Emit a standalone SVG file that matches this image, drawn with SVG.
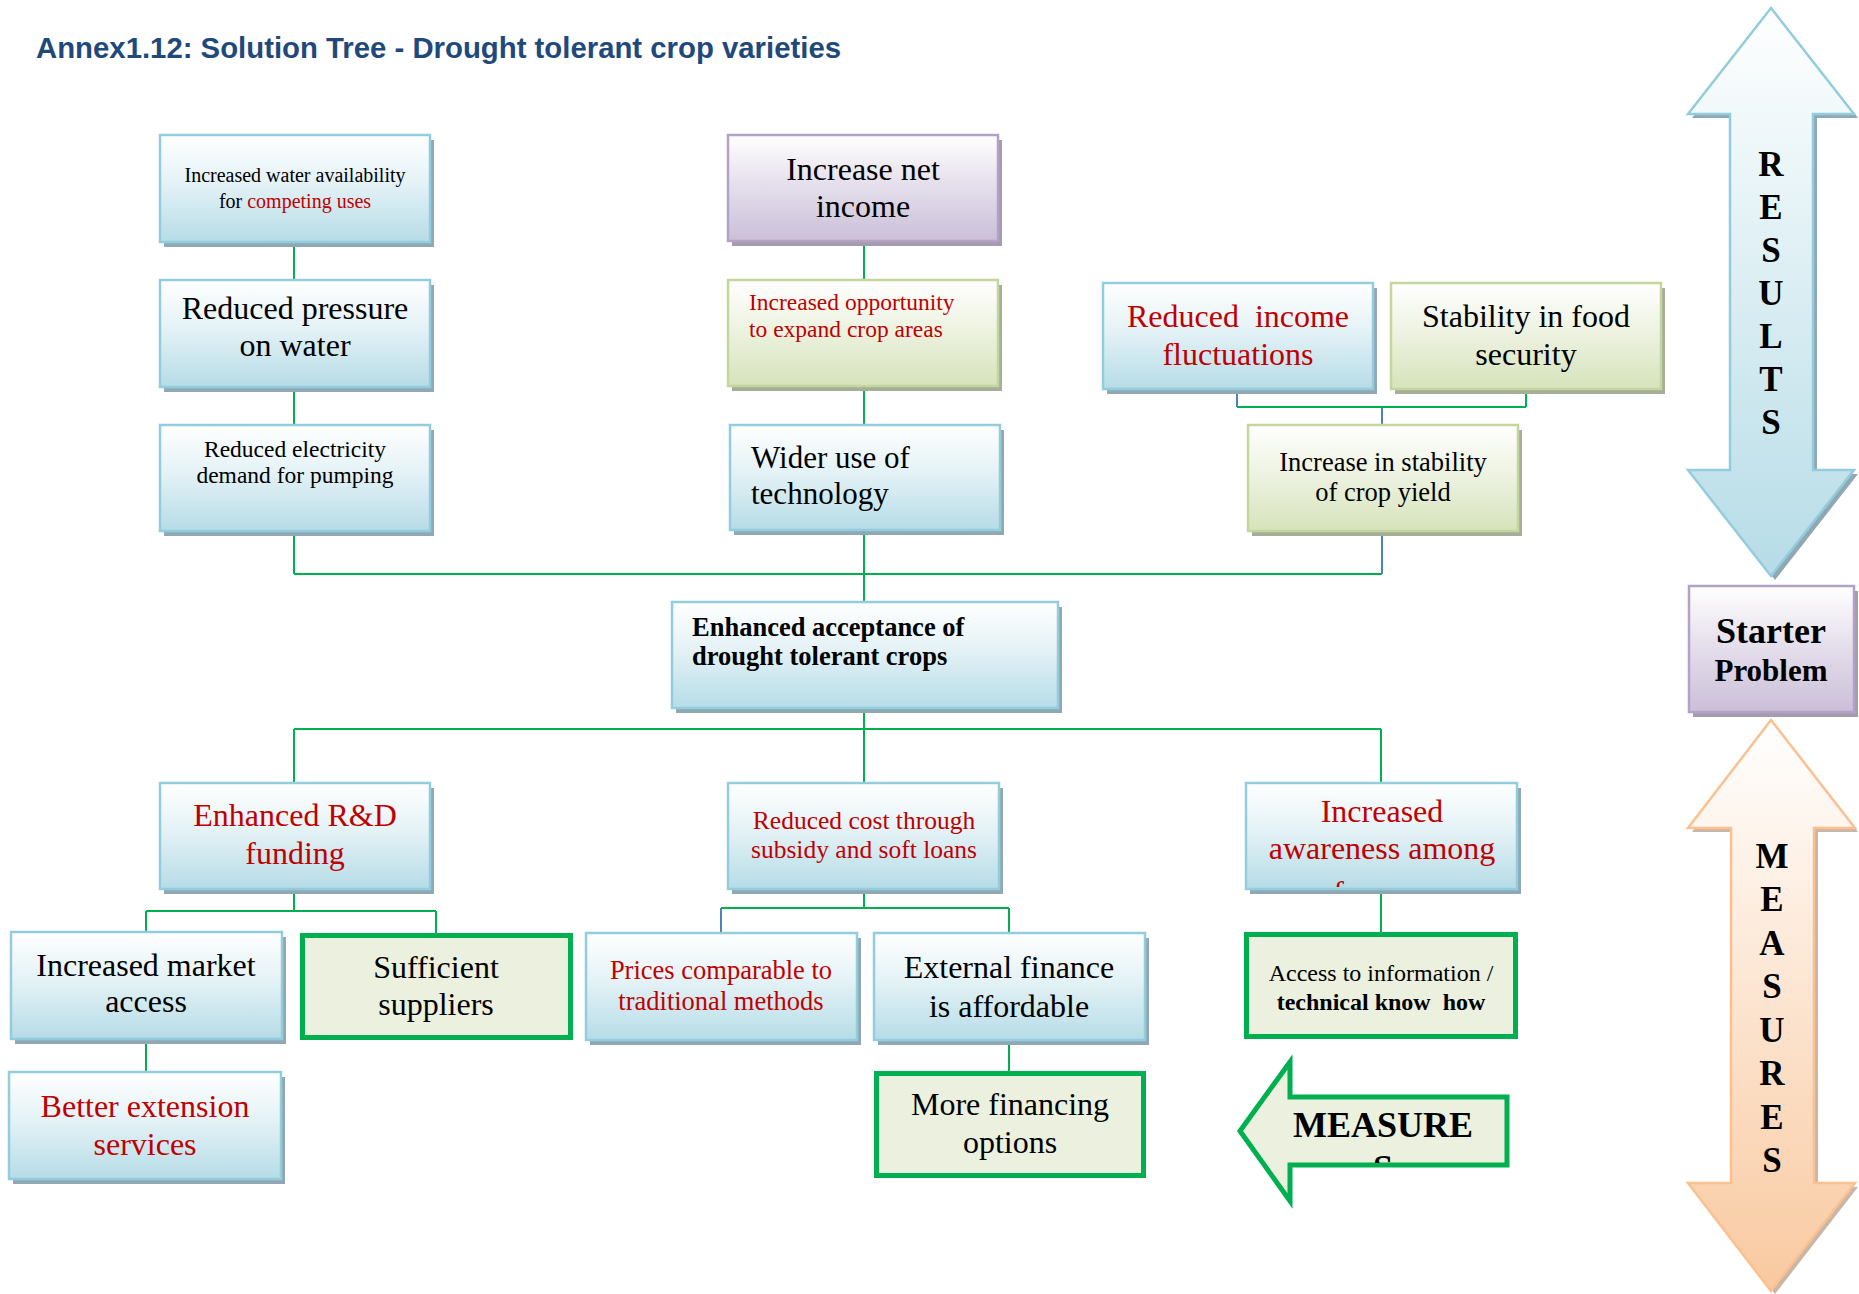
<svg xmlns="http://www.w3.org/2000/svg" width="1859" height="1294" viewBox="0 0 1859 1294">
<defs>
<linearGradient id="gBlue" x1="0" y1="0" x2="0" y2="1"><stop offset="0" stop-color="#ffffff"/><stop offset="0.45" stop-color="#e4f2f6"/><stop offset="1" stop-color="#b6dce7"/></linearGradient>
<linearGradient id="gGreen" x1="0" y1="0" x2="0" y2="1"><stop offset="0" stop-color="#ffffff"/><stop offset="0.45" stop-color="#eef3e2"/><stop offset="1" stop-color="#d6e3bb"/></linearGradient>
<linearGradient id="gPurple" x1="0" y1="0" x2="0" y2="1"><stop offset="0" stop-color="#ffffff"/><stop offset="0.45" stop-color="#e6e0ec"/><stop offset="1" stop-color="#cbbfd9"/></linearGradient>
<linearGradient id="gResults" x1="0" y1="0" x2="0" y2="1"><stop offset="0" stop-color="#ffffff"/><stop offset="1" stop-color="#b6dce7"/></linearGradient>
<linearGradient id="gMeasures" x1="0" y1="0" x2="0" y2="1"><stop offset="0" stop-color="#ffffff"/><stop offset="1" stop-color="#f9c9a0"/></linearGradient>
<clipPath id="clipAware"><rect x="1247" y="784" width="269" height="103"/></clipPath>
<clipPath id="clipMeasure"><rect x="1240" y="1060" width="270" height="103"/></clipPath>
</defs>
<style>
.sh-b{fill:#8fa8b3}
.sh-g{fill:#a6ad98}
.sh-p{fill:#a49bae}
.bx-b{fill:url(#gBlue);stroke:#93cddd;stroke-width:2.5}
.bx-g{fill:url(#gGreen);stroke:#c3d69b;stroke-width:2.5}
.bx-p{fill:url(#gPurple);stroke:#b3a2c7;stroke-width:2.5}
.bx-m{fill:#ebf1de;stroke:#00b050;stroke-width:5}
.t{font-family:"Liberation Serif","Times New Roman",serif;fill:#000}
.c{text-anchor:middle}
.red{fill:#c00000}
.b{font-weight:bold}
.ln{stroke:#00b050;stroke-width:2;fill:none}
.lb{stroke:#4f81bd;stroke-width:2;fill:none}
</style>

<text x="36" y="58" font-family="'Liberation Sans',Arial,sans-serif" font-weight="bold" font-size="29" fill="#1f497d" textLength="805" lengthAdjust="spacingAndGlyphs">Annex1.12: Solution Tree - Drought tolerant crop varieties</text>

<g id="connectors">
<path class="ln" d="M294,243V280M294,388V424M294,532V574M864,243V280M864,386V425M864,530V602M294,574H1382"/>
<path class="lb" d="M1382,532V574M1237,390V407M1382,407V425"/>
<path class="ln" d="M1237,407H1526M1526,390V407"/>
<path class="ln" d="M864,708V729M294,729H1381M294,729V783M864,729V783M1381,729V783"/>
<path class="ln" d="M294,889V911M146,911H436M146,911V932M436,911V933"/>
<path class="ln" d="M864,889V908M721,908H1009M1009,908V933"/>
<path class="lb" d="M721,908V933"/>
<path class="ln" d="M1009,1040V1071M146,1039V1072M1381,889V932"/>
</g>

<g id="n-water">
<rect class="sh-b" x="164" y="140" width="270" height="107"/>
<rect class="bx-b" x="160" y="135" width="270" height="107"/>
<text class="t c" x="295" y="182" font-size="20">Increased water availability</text>
<text class="t c" x="295" y="208" font-size="20">for <tspan class="red">competing uses</tspan></text>
</g>
<g id="n-pressure">
<rect class="sh-b" x="164" y="285" width="270" height="107"/>
<rect class="bx-b" x="160" y="280" width="270" height="107"/>
<text class="t c" x="295" y="319" font-size="32">Reduced pressure</text>
<text class="t c" x="295" y="356" font-size="32">on water</text>
</g>
<g id="n-electricity">
<rect class="sh-b" x="164" y="430" width="270" height="106"/>
<rect class="bx-b" x="160" y="425" width="270" height="106"/>
<text class="t c" x="295" y="457" font-size="23.5">Reduced electricity</text>
<text class="t c" x="295" y="483" font-size="23.5">demand for pumping</text>
</g>

<g id="n-netincome">
<rect class="sh-p" x="732" y="140" width="270" height="106"/>
<rect class="bx-p" x="728" y="135" width="270" height="106"/>
<text class="t c" x="863" y="180" font-size="32">Increase net</text>
<text class="t c" x="863" y="217" font-size="32">income</text>
</g>
<g id="n-opportunity">
<rect class="sh-g" x="732" y="285" width="270" height="106"/>
<rect class="bx-g" x="728" y="280" width="270" height="106"/>
<text class="t red" x="749" y="310" font-size="23.5">Increased opportunity</text>
<text class="t red" x="749" y="337" font-size="23.5">to expand crop areas</text>
</g>
<g id="n-technology">
<rect class="sh-b" x="734" y="430" width="270" height="105"/>
<rect class="bx-b" x="730" y="425" width="270" height="105"/>
<text class="t" x="751" y="468" font-size="31">Wider use of</text>
<text class="t" x="751" y="504" font-size="31">technology</text>
</g>

<g id="n-fluctuations">
<rect class="sh-b" x="1107" y="288" width="270" height="106"/>
<rect class="bx-b" x="1103" y="283" width="270" height="106"/>
<text class="t c red" x="1238" y="327" font-size="32" xml:space="preserve">Reduced  income</text>
<text class="t c red" x="1238" y="365" font-size="32">fluctuations</text>
</g>
<g id="n-foodsecurity">
<rect class="sh-g" x="1395" y="288" width="270" height="106"/>
<rect class="bx-g" x="1391" y="283" width="270" height="106"/>
<text class="t c" x="1526" y="327" font-size="32">Stability in food</text>
<text class="t c" x="1526" y="365" font-size="32">security</text>
</g>
<g id="n-yield">
<rect class="sh-g" x="1252" y="430" width="270" height="106"/>
<rect class="bx-g" x="1248" y="425" width="270" height="106"/>
<text class="t c" x="1383" y="471" font-size="26.5">Increase in stability</text>
<text class="t c" x="1383" y="501" font-size="26.5">of crop yield</text>
</g>

<g id="n-acceptance">
<rect class="sh-b" x="676" y="607" width="386" height="106"/>
<rect class="bx-b" x="672" y="602" width="386" height="106"/>
<text class="t b" x="692" y="636" font-size="26.5">Enhanced acceptance of</text>
<text class="t b" x="692" y="665" font-size="26.5">drought tolerant crops</text>
</g>

<g id="n-rd">
<rect class="sh-b" x="164" y="788" width="270" height="106"/>
<rect class="bx-b" x="160" y="783" width="270" height="106"/>
<text class="t c red" x="295" y="826" font-size="32">Enhanced R&amp;D</text>
<text class="t c red" x="295" y="864" font-size="32">funding</text>
</g>
<g id="n-cost">
<rect class="sh-b" x="732" y="788" width="271" height="106"/>
<rect class="bx-b" x="728" y="783" width="271" height="106"/>
<text class="t c red" x="864" y="829" font-size="25.5">Reduced cost through</text>
<text class="t c red" x="864" y="858" font-size="25.5">subsidy and soft loans</text>
</g>
<g id="n-awareness">
<rect class="sh-b" x="1250" y="788" width="271" height="106"/>
<rect class="bx-b" x="1246" y="783" width="271" height="106"/>
<g clip-path="url(#clipAware)">
<text class="t c red" x="1382" y="822" font-size="32">Increased</text>
<text class="t c red" x="1382" y="859" font-size="32">awareness among</text>
<text class="t c red" x="1382" y="903" font-size="32">farmers</text>
</g>
</g>

<g id="n-market">
<rect class="sh-b" x="15" y="937" width="271" height="107"/>
<rect class="bx-b" x="11" y="932" width="271" height="107"/>
<text class="t c" x="146" y="976" font-size="32">Increased market</text>
<text class="t c" x="146" y="1012" font-size="32">access</text>
</g>
<g id="n-suppliers">
<rect class="bx-m" x="302.5" y="935.5" width="268" height="102"/>
<text class="t c" x="436" y="978" font-size="32">Sufficient</text>
<text class="t c" x="436" y="1015" font-size="32">suppliers</text>
</g>
<g id="n-prices">
<rect class="sh-b" x="590" y="938" width="271" height="107"/>
<rect class="bx-b" x="586" y="933" width="271" height="107"/>
<text class="t c red" x="721" y="979" font-size="26.5">Prices comparable to</text>
<text class="t c red" x="721" y="1010" font-size="26.5">traditional methods</text>
</g>
<g id="n-external">
<rect class="sh-b" x="878" y="938" width="271" height="107"/>
<rect class="bx-b" x="874" y="933" width="271" height="107"/>
<text class="t c" x="1009" y="978" font-size="32">External finance</text>
<text class="t c" x="1009" y="1017" font-size="32">is affordable</text>
</g>
<g id="n-access">
<rect class="bx-m" x="1246.5" y="934.5" width="269" height="102"/>
<text class="t c" x="1381" y="981" font-size="24">Access to information /</text>
<text class="t c b" x="1381" y="1010" font-size="24" xml:space="preserve">technical know  how</text>
</g>
<g id="n-extension">
<rect class="sh-b" x="13" y="1077" width="272" height="107"/>
<rect class="bx-b" x="9" y="1072" width="272" height="107"/>
<text class="t c red" x="145" y="1117" font-size="32">Better extension</text>
<text class="t c red" x="145" y="1155" font-size="32">services</text>
</g>
<g id="n-financing">
<rect class="bx-m" x="876.5" y="1073.5" width="267" height="102"/>
<text class="t c" x="1010" y="1115" font-size="32">More financing</text>
<text class="t c" x="1010" y="1153" font-size="32">options</text>
</g>

<g id="measure-arrow">
<polygon points="1240,1131 1290,1062 1290,1097 1507,1097 1507,1165 1290,1165 1290,1201" fill="#ebf1de" stroke="#00b050" stroke-width="5"/>
<g clip-path="url(#clipMeasure)">
<text class="t c b" x="1383" y="1137" font-size="36">MEASURE</text>
<text class="t c b" x="1383" y="1180" font-size="36">S</text>
</g>
</g>

<g id="results-arrow">
<polygon points="1775,12 1858,118 1817,118 1817,474 1858,474 1775,580 1692,474 1734,474 1734,118 1692,118" fill="#8fa8b3"/>
<polygon points="1771,8 1854,114 1813,114 1813,470 1854,470 1771,576 1688,470 1730,470 1730,114 1688,114" fill="url(#gResults)" stroke="#93cddd" stroke-width="2.5"/>
<g class="t c b" font-size="35">
<text class="t c b" x="1771" y="176">R</text>
<text class="t c b" x="1771" y="219">E</text>
<text class="t c b" x="1771" y="262">S</text>
<text class="t c b" x="1771" y="305">U</text>
<text class="t c b" x="1771" y="348">L</text>
<text class="t c b" x="1771" y="391">T</text>
<text class="t c b" x="1771" y="434">S</text>
</g>
</g>

<g id="n-starter">
<rect class="sh-p" x="1693" y="591" width="165" height="126"/>
<rect class="bx-p" x="1689" y="586" width="165" height="126"/>
<text class="t c b" x="1771" y="643" font-size="36">Starter</text>
<text class="t c b" x="1771" y="681" font-size="31">Problem</text>
</g>

<g id="measures-arrow">
<polygon points="1775,724 1858,832 1818,832 1818,1187 1858,1187 1775,1294 1692,1187 1735,1187 1735,832 1692,832" fill="#c9b6a6"/>
<polygon points="1771,720 1855,828 1814,828 1814,1183 1855,1183 1771,1291 1688,1183 1731,1183 1731,828 1688,828" fill="url(#gMeasures)" stroke="#fac090" stroke-width="2.5"/>
<g class="t c b" font-size="35">
<text class="t c b" x="1772" y="868">M</text>
<text class="t c b" x="1772" y="911">E</text>
<text class="t c b" x="1772" y="955">A</text>
<text class="t c b" x="1772" y="998">S</text>
<text class="t c b" x="1772" y="1042">U</text>
<text class="t c b" x="1772" y="1085">R</text>
<text class="t c b" x="1772" y="1129">E</text>
<text class="t c b" x="1772" y="1172">S</text>
</g>
</g>
</svg>
